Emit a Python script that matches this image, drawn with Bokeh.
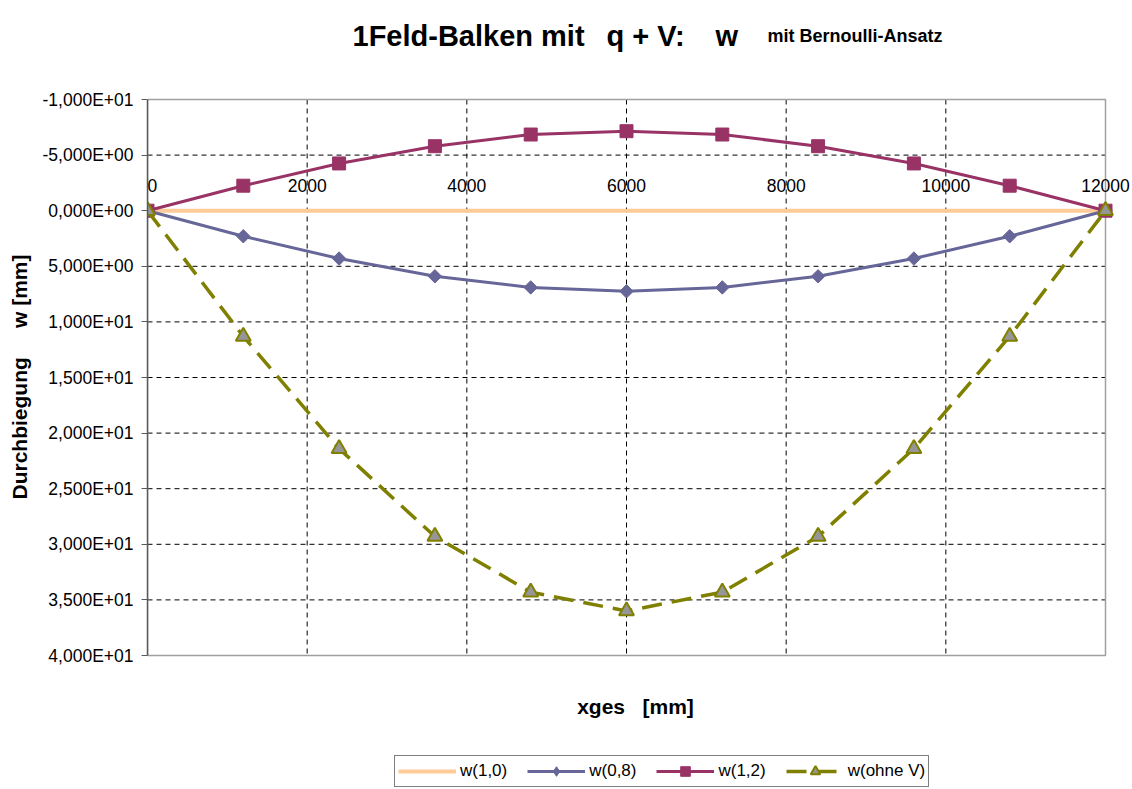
from bokeh.plotting import figure
from bokeh.models import (Range1d, FixedTicker, Legend, LegendItem, Label,
                          LabelSet, ColumnDataSource)
from bokeh.core.properties import value
from bokeh.embed import file_html
from bokeh.resources import INLINE

# ---------------- data ----------------
x_mm = [0, 1200, 2400, 3600, 4800, 6000, 7200, 8400, 9600, 10800, 12000]
w_10 = [0.0, 0.0, 0.0, 0.0, 0.0, 0.0, 0.0, 0.0, 0.0, 0.0, 0.0]
w_08 = [0.0, 2.3, 4.3, 5.9, 6.9, 7.25, 6.9, 5.9, 4.3, 2.3, 0.0]
w_12 = [0.0, -2.25, -4.25, -5.8, -6.85, -7.15, -6.85, -5.8, -4.25, -2.25, 0.0]
w_ohne = [0.0, 11.3, 21.4, 29.3, 34.3, 36.0, 34.3, 29.3, 21.4, 11.3, 0.0]

series_names = ["w(1,0)", "w(0,8)", "w(1,2)", "w(ohne V)"]

x_ticks = [0, 2000, 4000, 6000, 8000, 10000, 12000]
x_tick_labels = ["0", "2000", "4000", "6000", "8000", "10000", "12000"]

y_ticks = [-10, -5, 0, 5, 10, 15, 20, 25, 30, 35, 40]
y_tick_labels = ["-1,000E+01", "-5,000E+00", "0,000E+00", "5,000E+00",
                 "1,000E+01", "1,500E+01", "2,000E+01", "2,500E+01",
                 "3,000E+01", "3,500E+01", "4,000E+01"]

title_parts = ["1Feld-Balken mit", "q + V:", "w", "mit Bernoulli-Ansatz"]
x_title = "xges \u00a0 [mm]"
# leading no-break spaces centre the rotated title on the plot box
y_title = "\u00a0" * 6 + "Durchbiegung \u00a0 \u00a0 w [mm]"

FONT = "Liberation Sans"

# ---------------- layout geometry (pixels) ----------------
W, H = 1132, 788
BOX_L, BOX_R, BOX_T, BOX_B = 147, 1105, 99, 655     # plot box on the page
X0, X1 = x_ticks[0], x_ticks[-1]
Y0, Y1 = y_ticks[0], y_ticks[-1]
ppx = (BOX_R - BOX_L) / (X1 - X0)                    # px per mm
ppy = (BOX_B - BOX_T) / (Y1 - Y0)                    # px per unit w


def px2x(px):
    return X0 + (px - BOX_L) / ppx


def py2y(py):
    return Y0 + (py - BOX_T) / ppy


# frame: from the box's left edge to the right / top / bottom page edges
p = figure(width=W, height=H, output_backend="svg", toolbar_location=None,
           title=None, x_axis_location=None,
           x_range=Range1d(X0, px2x(W)), y_range=Range1d(py2y(H), py2y(0)),
           min_border_left=BOX_L, min_border_right=0,
           min_border_top=0, min_border_bottom=0)
p.background_fill_color = "white"
p.border_fill_color = "white"
p.outline_line_color = None
p.grid.grid_line_color = None

# y axis (bounded to the plot box)
p.yaxis.bounds = (Y0, Y1)
p.yaxis.ticker = FixedTicker(ticks=y_ticks)
p.yaxis.major_label_overrides = {t: s for t, s in zip(y_ticks, y_tick_labels)}
p.yaxis.major_label_text_font = FONT
p.yaxis.major_label_text_font_size = "17.5px"
p.yaxis.major_label_text_color = "black"
p.yaxis.major_label_standoff = 8
p.yaxis.major_tick_out = 6
p.yaxis.major_tick_in = 0
p.yaxis.minor_tick_line_color = None
p.yaxis.axis_line_color = "#595959"
p.yaxis.axis_line_width = 1.5
p.yaxis.major_tick_line_color = "#595959"
p.yaxis.axis_label = y_title
p.yaxis.axis_label_text_font = FONT
p.yaxis.axis_label_text_font_size = "21px"
p.yaxis.axis_label_text_font_style = "bold"
p.yaxis.axis_label_text_color = "black"
p.yaxis.axis_label_standoff = 9

# dashed grid lines inside the plot box
vx = x_ticks[1:-1]
p.segment(x0=vx, x1=vx, y0=[Y0] * len(vx), y1=[Y1] * len(vx),
          line_color="black", line_width=1, line_dash="5 4")
hy = y_ticks[1:-1]
p.segment(x0=[X0] * len(hy), x1=[X1] * len(hy), y0=hy, y1=hy,
          line_color="black", line_width=1, line_dash="5 4")

# plot box border
p.quad(left=[X0], right=[X1], top=[Y0], bottom=[Y1], fill_color=None,
       line_color="#a0a0a0", line_width=1.5)

# ---------------- series ----------------
src = ColumnDataSource(dict(x=x_mm, w10=w_10, w08=w_08, w12=w_12, wo=w_ohne))

r10 = p.line("x", "w10", source=src, line_color="#FFCC99", line_width=4)

r08l = p.line("x", "w08", source=src, line_color="#666699", line_width=3)
r08m = p.scatter("x", "w08", source=src, marker="square", angle=0.785398,
                 size=9.5, fill_color="#666699", line_color="#666699")
# diamond glyph for the legend entry (size 0: invisible in the plot area)
r08k = p.scatter("x", "w08", source=src, marker="diamond", size=0,
                 fill_color="#666699", line_color="#666699")

r12l = p.line("x", "w12", source=src, line_color="#993366", line_width=3)
r12m = p.scatter("x", "w12", source=src, marker="square", size=13,
                 fill_color="#993366", line_color="#993366")

rol = p.line("x", "wo", source=src, line_color="#808000", line_width=3.5,
             line_dash="20 10")
rom = p.scatter("x", "wo", source=src, marker="triangle", size=15,
                fill_color="#969696", line_color="#808000", line_width=2)

# x tick labels at the axis crossing (w = 0), above the line
xl_src = ColumnDataSource(dict(
    x=x_ticks, y=[0] * len(x_ticks), t=x_tick_labels,
    a=["left"] + ["center"] * (len(x_ticks) - 1)))
p.add_layout(LabelSet(x="x", y="y", text="t", source=xl_src,
                      text_font=value(FONT), text_font_size=value("17.5px"),
                      text_color="black", text_align="a",
                      text_baseline="alphabetic", y_offset=19))

# x axis title
p.add_layout(Label(x=px2x(635), y=py2y(706), text=x_title,
                   text_font=FONT, text_font_size="21px",
                   text_font_style="bold", text_color="black",
                   text_align="center", text_baseline="alphabetic"))

# ---------------- title ----------------
title_left = [352, 606, 715, 767]
title_base = [35.5, 35.5, 35.5, 35]
title_size = ["29px", "29px", "29px", "18px"]
for t, tx, ty, fs in zip(title_parts, title_left, title_base, title_size):
    p.add_layout(Label(x=px2x(tx), y=py2y(ty), text=t,
                       text_font=FONT, text_font_size=fs,
                       text_font_style="bold", text_color="black",
                       text_baseline="alphabetic", text_align="left"))

# ---------------- legend ----------------
legend = Legend(items=[
    LegendItem(label=series_names[0], renderers=[r10]),
    LegendItem(label=series_names[1], renderers=[r08l, r08k]),
    LegendItem(label=series_names[2], renderers=[r12l, r12m]),
    LegendItem(label=series_names[3], renderers=[rol, rom]),
], orientation="horizontal", location=(394 - BOX_L, H - 787))
legend.label_text_font = FONT
legend.label_text_font_size = "17px"
legend.label_text_color = "black"
legend.glyph_width = 58
legend.glyph_height = 24
legend.label_height = 24
legend.label_standoff = 4
legend.spacing = 20
legend.padding = 3
legend.margin = 0
legend.border_line_color = "black"
legend.border_line_width = 1
legend.background_fill_color = "white"
legend.background_fill_alpha = 1
p.add_layout(legend)

open("out.html", "w").write(file_html(p, INLINE))
